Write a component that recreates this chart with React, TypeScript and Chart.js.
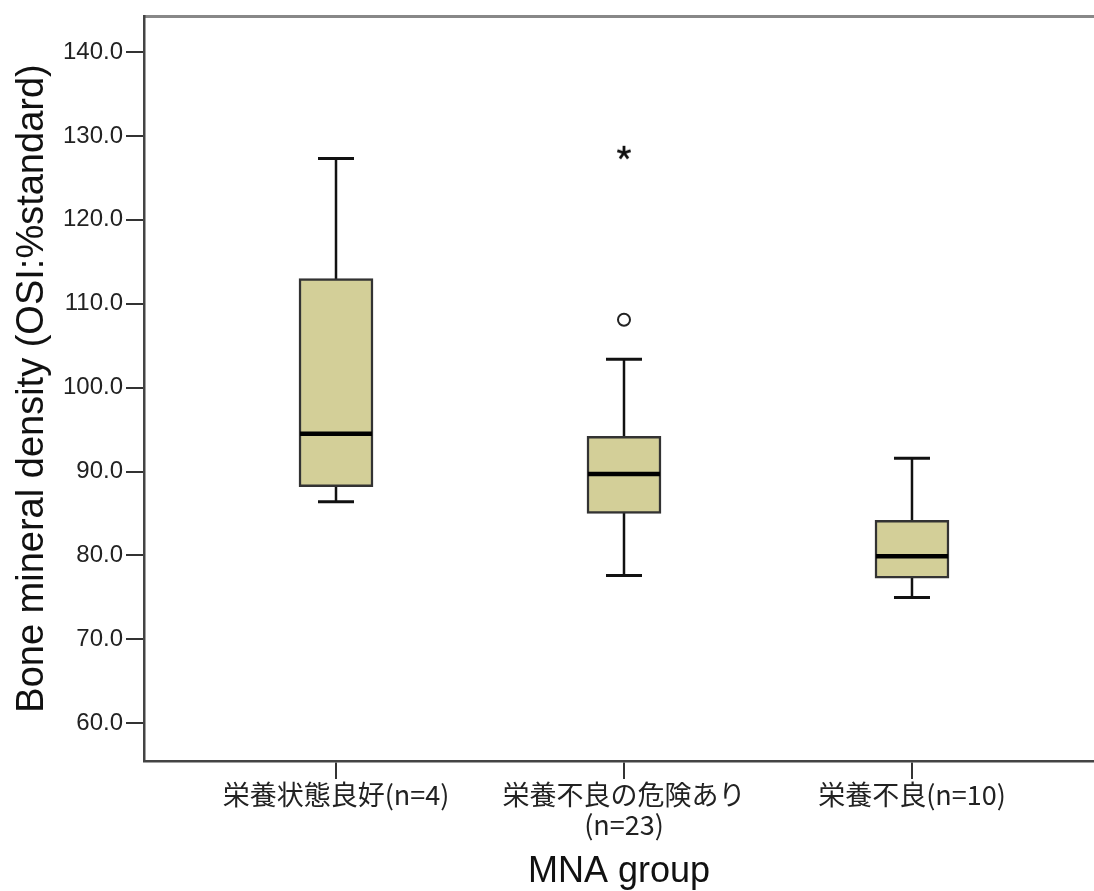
import React, { useEffect, useRef } from 'react';
import { Chart, registerables } from 'chart.js';

Chart.register(...registerables);

// ---- data ----
const categories: (string | string[])[] = [
  '栄養状態良好(n=4)',
  ['栄養不良の危険あり', '(n=23)'],
  '栄養不良(n=10)',
];
const positions = [1, 2, 3];
const whiskerLow = [86.4, 77.6, 75.0];
const q1 = [88.2, 85.0, 77.3];
const median = [94.5, 89.7, 79.9];
const q3 = [113.0, 94.2, 84.2];
const whiskerHigh = [127.3, 103.4, 91.6];
const outlierX = [2];
const outlierY = [108.1];
const extremeX = [2];
const extremeY = [128.0];
const yTicks = [60, 70, 80, 90, 100, 110, 120, 130, 140];

const Y_MIN = 55.5;
const Y_MAX = 144.3;
const X_MIN = 0.3333;
const X_MAX = 3.632;

function makeAsterisk(): HTMLCanvasElement {
  const c = document.createElement('canvas');
  c.width = 18;
  c.height = 18;
  const g = c.getContext('2d')!;
  g.strokeStyle = '#111';
  g.lineWidth = 2.8;
  for (let k = 0; k < 5; k++) {
    const a = -Math.PI / 2 + (k * 2 * Math.PI) / 5;
    g.beginPath();
    g.moveTo(9, 9);
    g.lineTo(9 + 7 * Math.cos(a), 9 + 7 * Math.sin(a));
    g.stroke();
  }
  return c;
}

const zeroPad = (s: any) => {
  s.paddingTop = 0;
  s.paddingBottom = 0;
  s.paddingLeft = 0;
  s.paddingRight = 0;
};

export default function App() {
  const ref = useRef<HTMLCanvasElement>(null);

  useEffect(() => {
    if (!ref.current) return;
    const asterisk = makeAsterisk();

    const whiskerSets = positions.map((p, i) => ({
      type: 'line' as const,
      data: [
        { x: p, y: whiskerLow[i] },
        { x: p, y: whiskerHigh[i] },
      ],
      borderColor: '#111',
      borderWidth: 2.5,
      pointRadius: 0,
      order: 3,
    }));

    const chart = new Chart(ref.current, {
      type: 'bar',
      data: {
        datasets: [
          ...whiskerSets,
          {
            type: 'bar' as const,
            data: positions.map((p, i) => ({ x: p, y: [q1[i], q3[i]] })) as any,
            backgroundColor: '#d3cf98',
            borderColor: '#333',
            borderWidth: 2.5,
            borderSkipped: false,
            barThickness: 74,
            order: 2,
          },
          {
            type: 'line' as const,
            data: positions.flatMap((p, i) => [
              { x: p, y: whiskerLow[i] },
              { x: p, y: whiskerHigh[i] },
            ]),
            showLine: false,
            pointStyle: 'line',
            pointRadius: 18,
            pointBorderWidth: 3,
            pointBorderColor: '#111',
            order: 1,
          },
          {
            type: 'line' as const,
            data: positions.map((p, i) => ({ x: p, y: median[i] })),
            showLine: false,
            pointStyle: 'line',
            pointRadius: 36,
            pointBorderWidth: 4.5,
            pointBorderColor: '#000',
            order: 0,
          },
          {
            type: 'line' as const,
            data: outlierX.map((x, i) => ({ x, y: outlierY[i] })),
            showLine: false,
            pointStyle: 'circle',
            pointRadius: 6,
            pointBorderWidth: 2,
            pointBorderColor: '#222',
            pointBackgroundColor: '#fff',
            order: 0,
          },
          {
            type: 'line' as const,
            data: extremeX.map((x, i) => ({ x, y: extremeY[i] })),
            showLine: false,
            pointStyle: asterisk as any,
            pointRadius: 9,
            order: 0,
          },
        ] as any,
      },
      options: {
        animation: false,
        responsive: false,
        layout: { autoPadding: false, padding: { top: 16, right: 0, left: 0, bottom: 0 } },
        plugins: {
          legend: { display: false },
          tooltip: { enabled: false },
        },
        scales: {
          x: {
            type: 'linear',
            position: 'bottom',
            min: X_MIN,
            max: X_MAX,
            offset: false,
            afterBuildTicks: (s: any) => {
              s.ticks = positions.map((v) => ({ value: v }));
            },
            afterFit: (s: any) => {
              s.height = 130;
              zeroPad(s);
            },
            ticks: {
              callback: (v: any) => categories[positions.indexOf(Number(v))],
              font: { family: '"Noto Sans CJK JP"', size: 27, lineHeight: 1.1 },
              color: '#222',
              padding: 1,
              maxRotation: 0,
              autoSkip: false,
            },
            grid: { offset: false, drawOnChartArea: false, drawTicks: true, tickLength: 18, color: '#333', lineWidth: 2 },
            border: { display: true, color: '#444', width: 2.5 },
            title: {
              display: true,
              text: 'MNA group',
              font: { family: '"Liberation Sans"', size: 36 },
              color: '#111',
              padding: { top: 0, bottom: -3 },
            },
          },
          x2: {
            type: 'linear',
            position: 'top',
            min: X_MIN,
            max: X_MAX,
            afterFit: (s: any) => {
              s.height = 0;
              zeroPad(s);
            },
            ticks: { display: false },
            grid: { offset: false, drawOnChartArea: false, drawTicks: false },
            border: { display: true, color: '#888', width: 3 },
          },
          y: {
            type: 'linear',
            position: 'left',
            min: Y_MIN,
            max: Y_MAX,
            afterBuildTicks: (s: any) => {
              s.ticks = yTicks.map((v) => ({ value: v }));
            },
            afterFit: (s: any) => {
              s.width = 144;
              zeroPad(s);
            },
            ticks: {
              callback: (v: any) => Number(v).toFixed(1),
              font: { family: '"Liberation Sans"', size: 24 },
              color: '#222',
              padding: 3,
            },
            grid: { drawOnChartArea: false, drawTicks: true, tickLength: 18, color: '#333', lineWidth: 2 },
            border: { display: true, color: '#444', width: 2.5 },
            title: {
              display: true,
              text: 'Bone mineral density (OSI:%standard)',
              font: { family: '"Liberation Sans"', size: 38 },
              color: '#111',
              padding: { top: 10, bottom: 0 },
            },
          },
        },
      } as any,
    });
    return () => chart.destroy();
  }, []);

  return (
    <div style={{ width: 1094, height: 891 }}>
      <style>{'body{margin:0}'}</style>
      <canvas ref={ref} width={1094} height={891} style={{ display: 'block' }} />
    </div>
  );
}
